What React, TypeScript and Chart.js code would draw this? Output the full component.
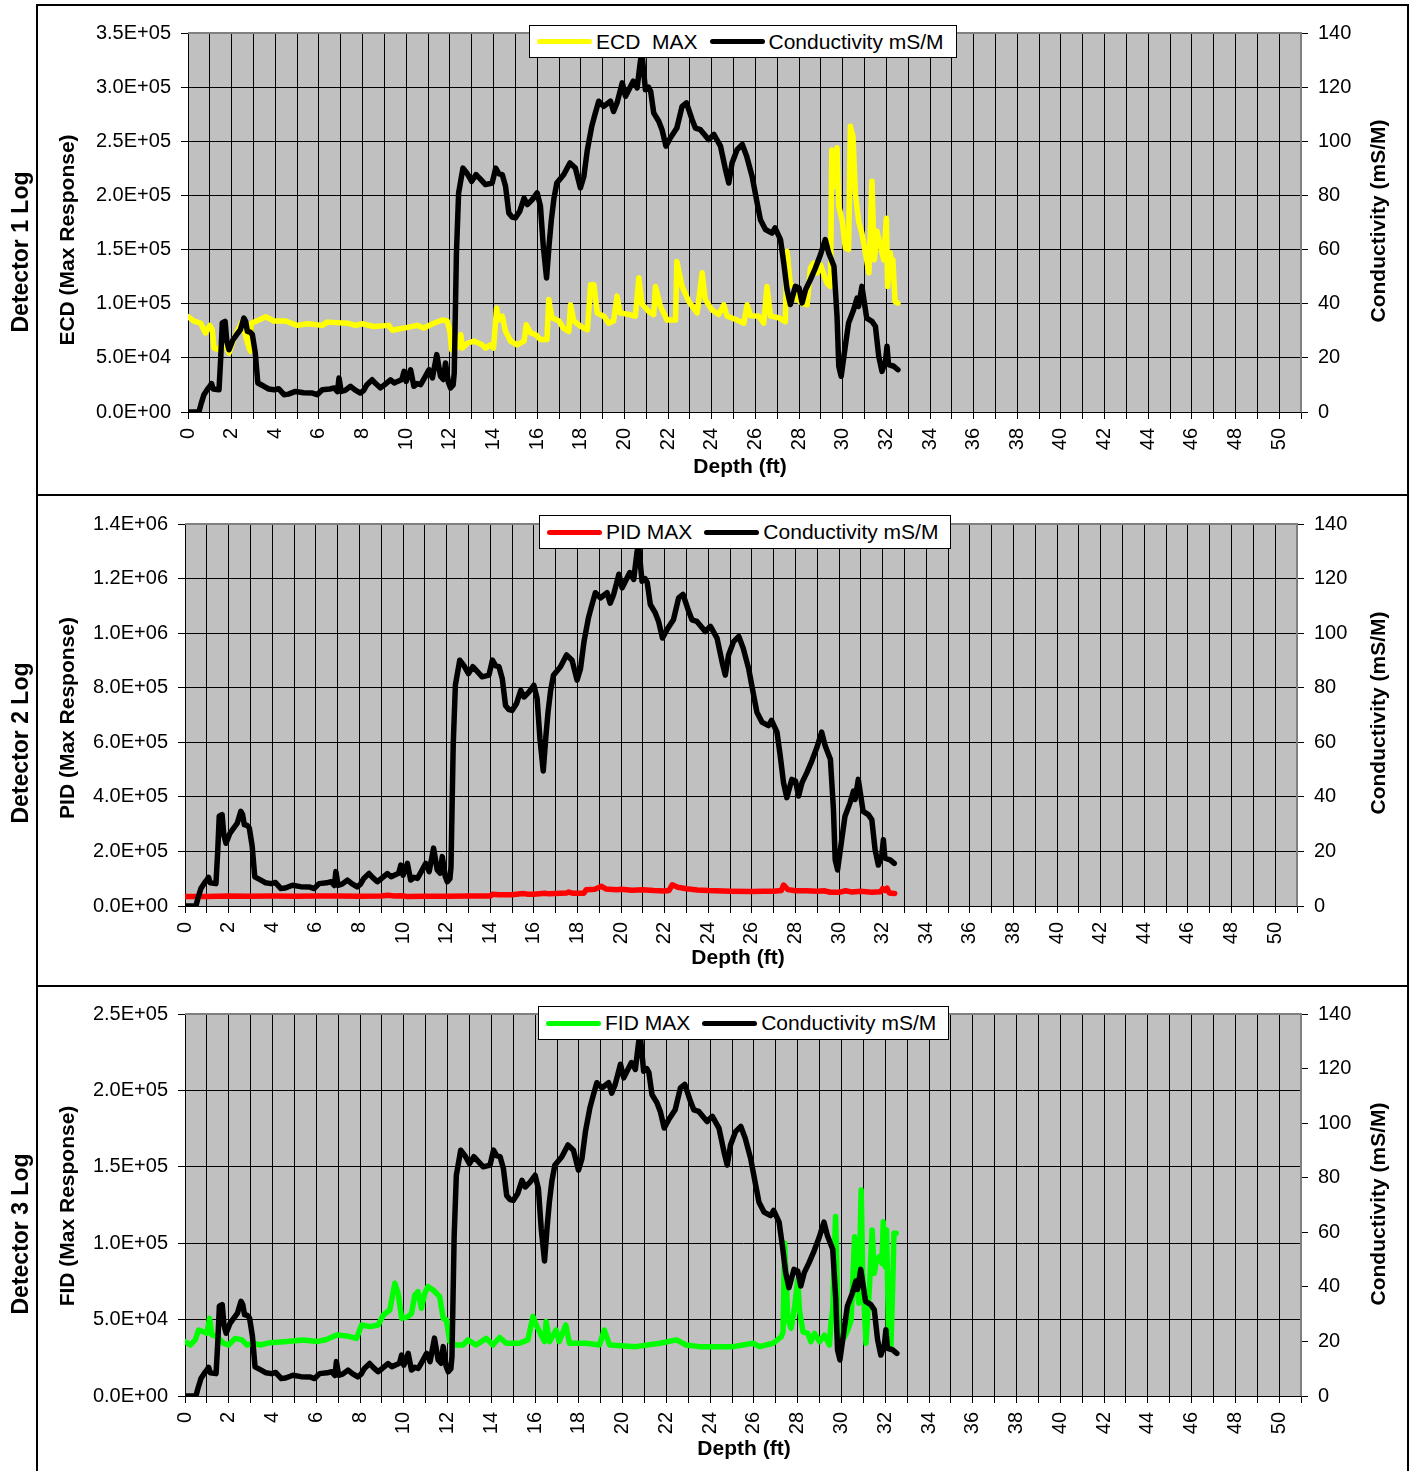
import React, { useEffect, useRef } from 'react';
import { Chart, registerables } from 'chart.js';

Chart.register(...registerables);

const FONT = '"Liberation Sans", Arial, Helvetica, sans-serif';
Chart.defaults.font.family = FONT;

// ---------------- DATA (depth ft, value) ----------------
const DEPTH_MAX = 51;
const DEPTH_STEP = 1;
const DEPTH_LABEL_EVERY = 2;
const DEPTH_LABEL_LAST = 50;

const COND_MAX = 140;
const COND_STEP = 20;

// Conductivity mS/M (shared by all three detector logs)
const conductivity: [number, number][] = [
  [0, 0], [0.5, 0], [0.6, 3], [0.73, 6.4], [0.9, 8.5], [1.0, 9.5], [1.08, 10.5], [1.15, 8.5], [1.42, 8.2],
  [1.5, 20], [1.57, 32.9], [1.7, 33.5], [1.78, 26], [1.88, 23], [2.05, 26.5], [2.18, 28], [2.4, 30.4],
  [2.56, 34.7], [2.64, 33.5], [2.72, 29.8], [2.85, 29.5], [2.95, 28.6], [3.08, 22], [3.2, 10.7], [3.48, 9.5],
  [3.7, 8.5], [3.94, 8.2], [4.15, 8.6], [4.4, 6.4], [4.6, 6.6], [4.93, 7.6], [5.3, 7.1], [5.7, 7.0],
  [5.92, 6.4], [6.15, 8.2], [6.5, 8.5], [6.7, 8.9], [6.85, 7.5], [6.92, 12.6], [7.02, 7.6], [7.2, 8.0],
  [7.45, 9.5], [7.65, 8.2], [7.9, 7.0], [8.05, 8.0], [8.2, 10.1], [8.44, 11.9], [8.6, 10.5], [8.82, 8.9],
  [9.0, 10], [9.28, 11.9], [9.45, 10.7], [9.6, 11.3], [9.8, 12], [9.9, 15], [10.0, 11.3], [10.2, 15.6],
  [10.35, 9.5], [10.5, 10.5], [10.66, 10.1], [10.85, 12.8], [11.04, 15.6], [11.2, 12.6], [11.4, 21.2],
  [11.57, 13.2], [11.7, 12], [11.8, 18.1], [11.93, 11], [12.03, 8.9], [12.15, 10], [12.2, 14.4],
  [12.3, 58.7], [12.4, 80.9], [12.6, 90.1], [12.8, 88], [13.0, 85.2], [13.2, 87.7], [13.4, 86],
  [13.63, 84], [13.94, 84.6], [14.1, 90.1], [14.25, 88], [14.4, 87.7], [14.55, 83.4], [14.7, 73.5],
  [14.85, 72], [15.0, 71.7], [15.2, 74.1], [15.4, 79], [15.55, 76.6], [15.77, 78.4], [16.0, 80.9],
  [16.15, 76], [16.28, 61.2], [16.43, 49.5], [16.55, 62], [16.65, 71], [16.77, 79], [16.9, 84.6],
  [17.22, 87.7], [17.5, 92], [17.75, 90.1], [17.98, 82.8], [18.14, 87], [18.3, 96.9], [18.5, 105.5],
  [18.65, 110], [18.82, 114.8], [19.05, 112.9], [19.36, 114.8], [19.5, 111], [19.66, 114.2], [19.9, 121.6],
  [20.05, 116.6], [20.4, 122.2], [20.58, 119.7], [20.73, 129.6], [20.8, 132.6], [20.96, 119], [21.1, 120],
  [21.2, 118.5], [21.34, 110.5], [21.57, 107.4], [21.72, 104.3], [21.9, 98.2], [22.1, 101.2], [22.4, 104.9],
  [22.64, 112.9], [22.84, 114.2], [23.1, 108], [23.25, 104.9], [23.48, 104.3], [23.86, 100.6], [24.1, 102.5],
  [24.4, 98.2], [24.63, 89.5], [24.78, 84.6], [24.93, 92], [25.16, 96.9], [25.4, 98.8], [25.6, 94.5],
  [25.85, 87], [26.08, 77.2], [26.23, 71], [26.46, 67.4], [26.76, 66.1], [26.9, 68], [27.15, 63.7],
  [27.3, 55], [27.45, 45.2], [27.6, 39.7], [27.83, 46.4], [28.0, 45.8], [28.14, 40.3], [28.3, 45.2],
  [28.52, 48.9], [28.75, 53.2], [28.98, 58.1], [29.2, 63.7], [29.36, 58.7], [29.6, 53.8], [29.74, 35.3],
  [29.82, 16.9], [29.93, 13.2], [30.12, 24.3], [30.27, 32.9], [30.5, 37.8], [30.66, 42.1], [30.73, 39],
  [30.88, 46.4], [31.1, 34.7], [31.34, 33.5], [31.5, 31.6], [31.65, 20.6], [31.8, 15], [31.96, 18.7],
  [32.03, 24.3], [32.1, 17.5], [32.34, 16.9], [32.53, 15.6],
];

// ECD max response
const ecdMax: [number, number][] = [
  [0, 88000], [0.27, 84000], [0.58, 82000], [0.8, 73000], [1.0, 80000], [1.11, 76000], [1.19, 59000],
  [1.42, 57500], [1.62, 67000], [1.88, 54500], [2.1, 67000], [2.26, 74500], [2.49, 84000], [2.64, 70000],
  [2.8, 59000], [2.87, 56000], [2.9, 82000], [3.25, 85000], [3.56, 88000], [3.94, 84000], [4.47, 84000],
  [5.0, 80000], [5.47, 81500], [6.15, 80000], [6.38, 83000], [7.3, 82000], [7.68, 80000], [7.98, 81500],
  [8.52, 79000], [9.2, 80000], [9.36, 75500], [9.9, 77500], [10.5, 80000], [10.8, 77500], [11.27, 82000],
  [11.65, 85000], [11.88, 84000], [12.0, 74500], [12.08, 57500], [12.33, 59000], [12.5, 71500],
  [12.57, 59000], [12.8, 63500], [13.1, 65500], [13.48, 62000], [13.63, 59000], [13.86, 62000],
  [14.0, 59000], [14.14, 96000], [14.24, 85000], [14.4, 88500], [14.55, 74500], [14.78, 65500],
  [15.08, 62000], [15.4, 65500], [15.5, 80500], [15.7, 73000], [15.92, 71500], [16.15, 67000],
  [16.45, 67000], [16.53, 104000], [16.68, 87000], [17.0, 84000], [17.2, 77500], [17.45, 74500],
  [17.53, 99000], [17.68, 84000], [18.0, 79000], [18.3, 76000], [18.45, 117500], [18.6, 117500],
  [18.75, 91500], [19.05, 88500], [19.28, 82000], [19.5, 84000], [19.66, 107000], [19.8, 91500],
  [20.2, 90000], [20.5, 88500], [20.66, 124000], [20.8, 100000], [21.1, 93000], [21.34, 90000],
  [21.42, 116000], [21.65, 97500], [21.95, 85000], [22.34, 85000], [22.4, 139000], [22.64, 116000],
  [22.95, 102000], [23.33, 91500], [23.56, 128500], [23.7, 104000], [24.0, 94500], [24.32, 90000],
  [24.55, 99000], [24.7, 88500], [25.16, 85000], [25.47, 82000], [25.62, 99000], [25.77, 89000],
  [26.15, 88500], [26.38, 82000], [26.53, 116000], [26.69, 88500], [27.07, 87000], [27.37, 83500],
  [27.45, 148500], [27.6, 117500], [27.76, 116000], [27.9, 104000], [28.14, 100500], [28.37, 99000],
  [28.52, 133000], [28.67, 137500], [28.82, 128500], [28.98, 136000], [29.16, 125500], [29.28, 119000],
  [29.44, 116000], [29.5, 242000], [29.6, 208000], [29.74, 244000], [29.82, 190000], [29.97, 177500],
  [30.12, 151500], [30.27, 150000], [30.35, 264000], [30.47, 254500], [30.58, 202000], [30.73, 176000],
  [30.88, 165000], [31.04, 147000], [31.2, 128500], [31.34, 213000], [31.45, 140500], [31.57, 167000],
  [31.73, 153000], [31.88, 140500], [32.0, 179000], [32.06, 116000], [32.18, 147000], [32.26, 128500],
  [32.3, 140500], [32.4, 102000], [32.53, 100500],
];

// PID max response
const pidMax: [number, number][] = [
  [0, 35000], [1, 35000], [2, 36500], [3, 36000], [4, 36500], [5, 36000], [6, 36500], [7, 36500],
  [8, 36000], [9, 36500], [9.3, 39000], [9.6, 36500], [10, 37500], [10.2, 34500], [11, 35500],
  [12, 35500], [13, 36500], [14, 36500], [14.1, 43000], [14.4, 41500], [15, 41000], [15.5, 46000],
  [15.7, 43500], [16, 43000], [16.5, 47000], [16.7, 44500], [17.5, 47500], [17.6, 51000], [17.8, 46500],
  [18.3, 47000], [18.4, 60000], [18.8, 61500], [19.1, 72000], [19.3, 62500], [19.8, 59500], [20, 61500],
  [20.5, 57500], [21, 59500], [21.5, 56500], [22, 55000], [22.2, 57000], [22.35, 78000], [22.6, 69000],
  [23, 63000], [23.5, 59000], [24, 56500], [25, 54000], [26, 53000], [26.5, 54500], [27, 54000],
  [27.35, 57000], [27.45, 77000], [27.65, 60000], [28, 56000], [28.5, 55500], [29, 54000], [29.3, 56000],
  [29.6, 50500], [30, 50000], [30.3, 56000], [30.6, 51000], [31, 54000], [31.5, 50500], [31.9, 52000],
  [32.0, 64000], [32.1, 57000], [32.2, 65000], [32.3, 48000], [32.55, 46000],
];

// FID max response
const fidMax: [number, number][] = [
  [0, 35600], [0.24, 33400], [0.47, 36700], [0.62, 43200], [0.85, 42000], [1.0, 41000], [1.12, 50800],
  [1.23, 40000], [1.46, 38800], [1.76, 34500], [1.99, 33400], [2.29, 37700], [2.6, 36700], [2.83, 33400],
  [3.13, 34500], [3.43, 33400], [3.89, 34900], [4.65, 35600], [5.41, 36700], [6.02, 35600], [6.47, 37000],
  [6.93, 40000], [7.39, 39300], [7.84, 37700], [8.07, 46500], [8.45, 45400], [8.83, 46500], [9.06, 53000],
  [9.36, 56300], [9.59, 73800], [9.74, 67200], [9.9, 50800], [10.2, 52000], [10.35, 54000], [10.5, 66000],
  [10.65, 68300], [10.8, 57400], [10.96, 67200], [11.1, 71600], [11.34, 69400], [11.64, 65000],
  [11.8, 50800], [11.95, 49700], [12.1, 35600], [12.4, 33400], [12.7, 33400], [12.93, 36700],
  [13.3, 33400], [13.77, 37700], [14.07, 33400], [14.38, 38300], [14.68, 34500], [15.29, 34500],
  [15.67, 36700], [15.9, 52000], [16.05, 46500], [16.27, 40000], [16.43, 35600], [16.5, 48700],
  [16.66, 35600], [16.96, 43200], [17.1, 35600], [17.4, 46500], [17.57, 34500], [18.33, 34500],
  [18.94, 33400], [19.16, 43200], [19.4, 33400], [20.6, 32300], [21.7, 34500], [22.46, 36700],
  [22.9, 33400], [23.5, 32300], [25.05, 32300], [25.96, 34500], [26.26, 32300], [26.87, 34500],
  [27.25, 38800], [27.33, 42000], [27.4, 100000], [27.48, 73800], [27.55, 49700], [27.7, 44300],
  [27.86, 58500], [28.0, 75900], [28.08, 56300], [28.24, 42000], [28.46, 41000], [28.6, 35600],
  [28.77, 41000], [29.0, 35600], [29.22, 39900], [29.45, 33400], [29.53, 49700], [29.6, 56300],
  [29.73, 117400], [29.82, 62800], [29.9, 32300], [30.14, 38800], [30.29, 43200], [30.44, 49700],
  [30.6, 104300], [30.67, 73800], [30.79, 60700], [30.9, 134800], [30.97, 80300], [31.12, 34500],
  [31.28, 71600], [31.4, 108700], [31.5, 80300], [31.6, 89000], [31.73, 91200], [31.85, 86800],
  [31.91, 114000], [32.0, 84700], [32.06, 108700], [32.16, 32300], [32.26, 32300], [32.34, 71600],
  [32.4, 106500], [32.5, 106500],
];

// ---------------- PANEL SETUP ----------------
type PanelSpec = {
  key: string;
  title: string;
  leftTitle: string;
  legendLabel: string;
  color: string;
  series: [number, number][];
  leftMax: number;
  leftStep: number;
  top: number;
  height: number;
  plotLeft: number;
  plotRight: number;
  plotTop: number;
  plotBottom: number;
  detY: number;
  leftTitleY: number;
  depthX: number;
  depthY: number;
  rightTitleY: number;
  legendLeft: number;
  legendTop: number;
  legendHeight: number;
};

const panels: PanelSpec[] = [
  {
    key: 'p1', title: 'Detector 1 Log', leftTitle: 'ECD (Max Response)', legendLabel: 'ECD  MAX',
    color: '#FFFF00', series: ecdMax, leftMax: 350000, leftStep: 50000,
    top: 4, height: 491, plotLeft: 188, plotRight: 1301, plotTop: 33, plotBottom: 412,
    detY: 252, leftTitleY: 240, depthX: 740, depthY: 465, rightTitleY: 221,
    legendLeft: 529, legendTop: 25, legendHeight: 33,
  },
  {
    key: 'p2', title: 'Detector 2 Log', leftTitle: 'PID (Max Response)', legendLabel: 'PID MAX',
    color: '#FF0000', series: pidMax, leftMax: 1400000, leftStep: 200000,
    top: 495, height: 491, plotLeft: 185, plotRight: 1297, plotTop: 524, plotBottom: 906,
    detY: 743, leftTitleY: 718, depthX: 738, depthY: 956, rightTitleY: 713,
    legendLeft: 539, legendTop: 515, legendHeight: 34,
  },
  {
    key: 'p3', title: 'Detector 3 Log', leftTitle: 'FID (Max Response)', legendLabel: 'FID MAX',
    color: '#00FF00', series: fidMax, leftMax: 250000, leftStep: 50000,
    top: 986, height: 485, plotLeft: 185, plotRight: 1301, plotTop: 1014, plotBottom: 1396,
    detY: 1234, leftTitleY: 1206, depthX: 744, depthY: 1447, rightTitleY: 1204,
    legendLeft: 538, legendTop: 1006, legendHeight: 34,
  },
];

const W = 1413;

function sci(v: number): string {
  const [m, e] = v.toExponential(1).split('e');
  const n = parseInt(e, 10);
  return `${m}E${n < 0 ? '-' : '+'}${String(Math.abs(n)).padStart(2, '0')}`;
}

const toPoints = (s: [number, number][]) => s.map(([x, y]) => ({ x, y }));

const bgPlugin = {
  id: 'plotBg',
  beforeDraw(chart: any) {
    const { ctx, chartArea } = chart;
    if (!chartArea) return;
    ctx.save();
    ctx.fillStyle = '#C0C0C0';
    ctx.fillRect(chartArea.left, chartArea.top, chartArea.right - chartArea.left, chartArea.bottom - chartArea.top);
    ctx.restore();
  },
  beforeDatasetsDraw(chart: any) {
    const { ctx, chartArea } = chart;
    ctx.save();
    ctx.strokeStyle = '#808080';
    ctx.lineWidth = 2;
    ctx.beginPath();
    ctx.moveTo(chartArea.left, chartArea.top);
    ctx.lineTo(chartArea.right + 1, chartArea.top);
    ctx.moveTo(chartArea.right, chartArea.top);
    ctx.lineTo(chartArea.right, chartArea.bottom);
    ctx.stroke();
    ctx.restore();
  },
};

const tickFont = { family: FONT, size: 20 };
const LINE_W = 5.5;

function Panel({ spec }: { spec: PanelSpec }) {
  const ref = useRef<HTMLCanvasElement>(null);
  useEffect(() => {
    const canvas = ref.current;
    if (!canvas) return;
    const plotTopLocal = spec.plotTop - spec.top;
    const xAxisHeight = spec.height - (spec.plotBottom - spec.top);
    const chart = new Chart(canvas, {
      type: 'line',
      data: {
        datasets: [
          {
            label: spec.legendLabel,
            data: toPoints(spec.series),
            borderColor: spec.color,
            backgroundColor: spec.color,
            borderWidth: LINE_W,
            pointRadius: 0,
            tension: 0,
            yAxisID: 'y',
            order: 1,
            borderJoinStyle: 'round',
            borderCapStyle: 'round',
          },
          {
            label: 'Conductivity mS/M',
            data: toPoints(conductivity),
            borderColor: '#000000',
            backgroundColor: '#000000',
            borderWidth: LINE_W,
            pointRadius: 0,
            tension: 0,
            yAxisID: 'y2',
            order: 0,
            borderJoinStyle: 'round',
            borderCapStyle: 'round',
          },
        ],
      },
      options: {
        responsive: false,
        animation: false,
        events: [],
        layout: { padding: { top: plotTopLocal, left: 0, right: 0, bottom: 0 } },
        plugins: { legend: { display: false }, tooltip: { enabled: false } },
        scales: {
          x: {
            type: 'linear',
            position: 'bottom',
            min: 0,
            max: DEPTH_MAX,
            ticks: {
              stepSize: DEPTH_STEP,
              autoSkip: false,
              minRotation: 90,
              maxRotation: 90,
              padding: 9,
              color: '#000',
              font: tickFont,
              callback: (v: any) => {
                const n = Number(v);
                return n % DEPTH_LABEL_EVERY === 0 && n <= DEPTH_LABEL_LAST ? String(n) : '';
              },
            },
            grid: { color: '#000', lineWidth: 1, tickLength: 7 },
            border: { color: '#000', width: 1 },
            afterFit: (s: any) => { s.height = xAxisHeight; },
          },
          y: {
            type: 'linear',
            position: 'left',
            min: 0,
            max: spec.leftMax,
            ticks: {
              stepSize: spec.leftStep,
              padding: 10,
              color: '#000',
              font: tickFont,
              callback: (v: any) => sci(Number(v)),
            },
            grid: { color: '#000', lineWidth: 1, tickLength: 7 },
            border: { color: '#000', width: 1 },
            afterFit: (s: any) => { s.width = spec.plotLeft; },
          },
          y2: {
            type: 'linear',
            position: 'right',
            min: 0,
            max: COND_MAX,
            ticks: {
              stepSize: COND_STEP,
              padding: 10,
              color: '#000',
              font: tickFont,
            },
            grid: { drawOnChartArea: false, color: '#000', lineWidth: 1, tickLength: 7 },
            border: { color: '#404040', width: 1 },
            afterFit: (s: any) => { s.width = W - spec.plotRight; },
          },
        },
      } as any,
      plugins: [bgPlugin],
    });
    return () => chart.destroy();
  }, [spec]);

  return (
    <canvas
      ref={ref}
      width={W}
      height={spec.height}
      style={{ position: 'absolute', left: 0, top: spec.top, width: W, height: spec.height }}
    />
  );
}

function Label({ x, y, text, size, rotate }: { x: number; y: number; text: string; size: number; rotate?: boolean }) {
  return (
    <div
      style={{
        position: 'absolute',
        left: x,
        top: y,
        transform: `translate(-50%, -50%)${rotate ? ' rotate(-90deg)' : ''}`,
        whiteSpace: 'pre',
        font: `bold ${size}px ${FONT}`,
        lineHeight: 1,
        color: '#000',
        zIndex: 3,
      }}
    >
      {text}
    </div>
  );
}

function Legend({ spec }: { spec: PanelSpec }) {
  const sample = (color: string) => (
    <span style={{ display: 'inline-block', width: 55, height: 5, borderRadius: 3, background: color }} />
  );
  return (
    <div
      style={{
        position: 'absolute',
        left: spec.legendLeft,
        top: spec.legendTop,
        height: spec.legendHeight,
        boxSizing: 'border-box',
        border: '1px solid #000',
        background: '#fff',
        display: 'flex',
        alignItems: 'center',
        padding: '0 12px 0 7px',
        font: `21px ${FONT}`,
        whiteSpace: 'pre',
        color: '#000',
        zIndex: 4,
      }}
    >
      {sample(spec.color)}
      <span style={{ marginLeft: 4 }}>{spec.legendLabel}</span>
      <span style={{ marginLeft: 12, display: 'inline-flex' }}>{sample('#000')}</span>
      <span style={{ marginLeft: 4 }}>Conductivity mS/M</span>
    </div>
  );
}

export default function App() {
  return (
    <div style={{ position: 'absolute', left: 0, top: 0, width: W, height: 1471, background: '#fff', overflow: 'hidden' }}>
      {panels.map((p) => (
        <Panel key={p.key} spec={p} />
      ))}
      {/* outer frame & separators */}
      <div style={{ position: 'absolute', left: 36, top: 4, width: 1373, height: 1480, boxSizing: 'border-box', border: '2px solid #000', zIndex: 2 }} />
      <div style={{ position: 'absolute', left: 36, top: 494, width: 1373, height: 2, background: '#000', zIndex: 2 }} />
      <div style={{ position: 'absolute', left: 36, top: 985, width: 1373, height: 2, background: '#000', zIndex: 2 }} />
      {panels.map((p) => (
        <React.Fragment key={p.key + 't'}>
          <Label x={20} y={p.detY} text={p.title} size={23} rotate />
          <Label x={66} y={p.leftTitleY} text={p.leftTitle} size={21} rotate />
          <Label x={1377} y={p.rightTitleY} text="Conductivity (mS/M)" size={21} rotate />
          <Label x={p.depthX} y={p.depthY} text="Depth (ft)" size={21} />
          <Legend spec={p} />
        </React.Fragment>
      ))}
    </div>
  );
}
